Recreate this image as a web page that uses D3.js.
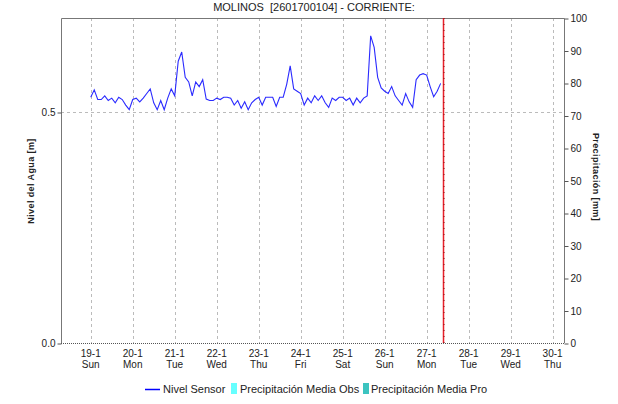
<!DOCTYPE html>
<html>
<head>
<meta charset="utf-8">
<script src="https://cdn.jsdelivr.net/npm/d3@7"></script>
<style>
  body { margin: 0; background: #fff; }
  text { font-family: "Liberation Sans", Arial, sans-serif; fill: #222; }
</style>
</head>
<body>
<div id="chart"></div>
<script>
// sensor level, every 2 hours starting 19-1 00:00
var startTime = new Date(2025, 0, 19, 0, 0);
var stepHours = 2;
var nivel = [
  0.532, 0.548, 0.527, 0.527, 0.535, 0.525, 0.530, 0.520, 0.532, 0.527, 0.515, 0.505,
  0.527, 0.530, 0.522, 0.530, 0.540, 0.550, 0.520, 0.505, 0.525, 0.505, 0.530, 0.550,
  0.535, 0.610, 0.630, 0.575, 0.565, 0.535, 0.565, 0.555, 0.570, 0.528, 0.525, 0.525,
  0.530, 0.527, 0.532, 0.532, 0.530, 0.515, 0.525, 0.508, 0.522, 0.505, 0.520, 0.527,
  0.532, 0.515, 0.532, 0.532, 0.532, 0.512, 0.532, 0.532, 0.560, 0.600, 0.550, 0.545,
  0.540, 0.515, 0.530, 0.520, 0.535, 0.525, 0.535, 0.520, 0.510, 0.530, 0.525, 0.532,
  0.532, 0.525, 0.530, 0.515, 0.530, 0.520, 0.530, 0.535, 0.665, 0.640, 0.575, 0.552,
  0.545, 0.540, 0.555, 0.535, 0.525, 0.515, 0.540, 0.522, 0.510, 0.570, 0.580, 0.583,
  0.580, 0.555, 0.533, 0.545, 0.562
];
var dayTicks = ['19-1','20-1','21-1','22-1','23-1','24-1','25-1','26-1','27-1','28-1','29-1','30-1'];
var leftTicks = [0, 0.5];
var rightTicks = [0, 10, 20, 30, 40, 50, 60, 70, 80, 90, 100];
var nowTime = new Date(2025, 0, 27, 9, 20);
var legendItems = ['Nivel Sensor', 'Precipitación Media Obs', 'Precipitación Media Pro'];

var w = 618, h = 404;
var pLeft = 61, pRight = 564, pTop = 18, pBottom = 343;

var svg = d3.select('#chart').append('svg').attr('width', w).attr('height', h);

var x = d3.scaleTime()
  .domain([new Date(2025, 0, 18, 7, 0), new Date(2025, 0, 30, 6, 30)])
  .range([pLeft, pRight]);
var yL = d3.scaleLinear().domain([0, 0.7035]).range([pBottom, pTop]);
var yR = d3.scaleLinear().domain([0, 100]).range([pBottom, pTop]);

var tickDates = dayTicks.map(function (s) {
  var p = s.split('-');
  return new Date(2025, +p[1] - 1, +p[0]);
});

// grid
svg.selectAll('.vgrid').data(tickDates).enter().append('line')
  .attr('x1', function (d) { return Math.round(x(d)) + 0.5; })
  .attr('x2', function (d) { return Math.round(x(d)) + 0.5; })
  .attr('y1', pTop).attr('y2', pBottom)
  .attr('stroke', '#bbb').attr('stroke-dasharray', '3,3');
svg.append('line')
  .attr('x1', pLeft).attr('x2', pRight)
  .attr('y1', Math.round(yL(0.5)) + 0.5).attr('y2', Math.round(yL(0.5)) + 0.5)
  .attr('stroke', '#bbb').attr('stroke-dasharray', '3,3');

// frame
svg.append('path')
  .attr('d', 'M' + (pLeft + 0.5) + ',' + pBottom + 'V' + (pTop + 0.5) + 'H' + (pRight + 0.5) + 'V' + pBottom)
  .attr('fill', 'none').attr('stroke', '#777');
svg.append('line')
  .attr('x1', pLeft).attr('x2', pRight + 1)
  .attr('y1', pBottom + 0.5).attr('y2', pBottom + 0.5)
  .attr('stroke', '#555').attr('stroke-dasharray', '1,1');

// left axis
var axL = svg.append('g').attr('transform', 'translate(' + (pLeft + 0.5) + ',0.5)')
  .call(d3.axisLeft(yL).tickValues(leftTicks).tickFormat(d3.format('.1f')).tickSize(4).tickPadding(2));
axL.select('.domain').remove();
axL.selectAll('line').attr('stroke', '#555');
axL.selectAll('text').style('font-size', '10px').attr('fill', '#222');

// right axis
var axR = svg.append('g').attr('transform', 'translate(' + (pRight + 0.5) + ',0.5)')
  .call(d3.axisRight(yR).tickValues(rightTicks).tickSize(4).tickPadding(2));
axR.select('.domain').remove();
axR.selectAll('line').attr('stroke', '#555');
axR.selectAll('text').style('font-size', '10px').attr('fill', '#222');

// bottom labels
var fmtDay = d3.timeFormat('%a');
var xl = svg.append('g');
xl.selectAll('.dt').data(tickDates).enter().append('text')
  .attr('x', function (d) { return x(d); }).attr('y', 357)
  .attr('text-anchor', 'middle').style('font-size', '10px')
  .text(function (d, i) { return dayTicks[i]; });
xl.selectAll('.wd').data(tickDates).enter().append('text')
  .attr('x', function (d) { return x(d); }).attr('y', 368)
  .attr('text-anchor', 'middle').style('font-size', '10px')
  .text(function (d) { return fmtDay(d); });

// sensor line
var line = d3.line()
  .x(function (d, i) { return x(new Date(startTime.getTime() + i * stepHours * 3600000)); })
  .y(function (d) { return yL(d); });
svg.append('path').datum(nivel)
  .attr('d', line).attr('fill', 'none')
  .attr('stroke', '#2a2aff').attr('stroke-width', 1.1);

// current time marker
var nx = Math.round(x(nowTime)) + 0.5;
svg.append('line').attr('x1', nx).attr('x2', nx).attr('y1', pTop).attr('y2', pBottom)
  .attr('stroke', '#e8202a').attr('stroke-width', 1.5);
svg.append('line').attr('x1', nx + 0.5).attr('x2', nx + 0.5).attr('y1', pTop).attr('y2', pBottom)
  .attr('stroke', '#8a1010').attr('stroke-width', 1).attr('stroke-dasharray', '1,5');

// title
svg.append('text').attr('x', 314).attr('y', 11).attr('text-anchor', 'middle')
  .style('font-size', '11px').style('white-space', 'pre')
  .text('MOLINOS  [2601700104] - CORRIENTE:');

// axis titles
svg.append('text').attr('transform', 'translate(34,181) rotate(-90)')
  .attr('text-anchor', 'middle').style('font-size', '9px').style('font-weight', 'bold')
  .style('letter-spacing', '0.4px').attr('fill', '#333')
  .text('Nivel del Agua [m]');
svg.append('text').attr('transform', 'translate(593,177) rotate(90)')
  .attr('text-anchor', 'middle').style('font-size', '9px').style('font-weight', 'bold')
  .style('letter-spacing', '0.4px').attr('fill', '#333')
  .text('Precipitación [mm]');

// legend
var lg = svg.append('g');
lg.append('line').attr('x1', 145).attr('x2', 160).attr('y1', 389.5).attr('y2', 389.5)
  .attr('stroke', '#0000ff').attr('stroke-width', 1.5);
lg.append('text').attr('x', 163).attr('y', 393).style('font-size', '11px').text(legendItems[0]);
lg.append('rect').attr('x', 231).attr('y', 383).attr('width', 6).attr('height', 11).attr('fill', '#66ffff');
lg.append('text').attr('x', 240).attr('y', 393).style('font-size', '11px').text(legendItems[1]);
lg.append('rect').attr('x', 363).attr('y', 383).attr('width', 6).attr('height', 11).attr('fill', '#3cc4c0');
lg.append('text').attr('x', 371).attr('y', 393).style('font-size', '11px').text(legendItems[2]);
</script>
</body>
</html>
